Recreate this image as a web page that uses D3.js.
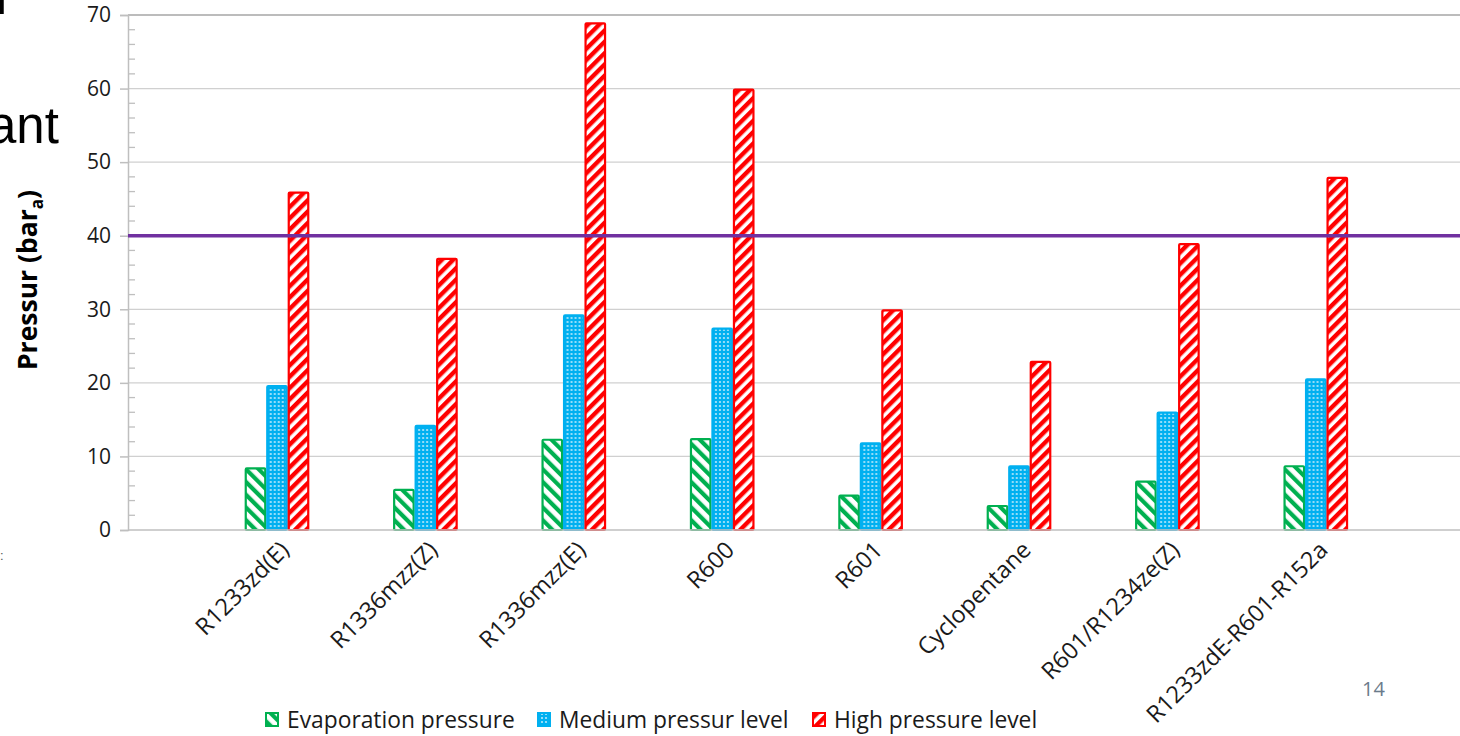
<!DOCTYPE html>
<html>
<head>
<meta charset="utf-8">
<script src="https://cdn.jsdelivr.net/npm/d3@7"></script>
<style>
  html, body { margin: 0; padding: 0; background: #fff; }
  svg { display: block; }
</style>
</head>
<body>
<svg id="chart" width="1460" height="736"></svg>
<script>
// Refrigerant pressure levels (bar absolute)
const categories = ["R1233zd(E)", "R1336mzz(Z)", "R1336mzz(E)", "R600", "R601", "Cyclopentane", "R601/R1234ze(Z)", "R1233zdE-R601-R152a"];
const evaporation = [8.5, 5.6, 12.4, 12.5, 4.8, 3.4, 6.7, 8.8];
const medium = [19.7, 14.3, 29.3, 27.5, 11.9, 8.8, 16.1, 20.6];
const high = [46, 37, 69, 60, 30, 23, 39, 48];
const seriesNames = ["Evaporation pressure", "Medium pressur level", "High pressure level"];
const yTicks = [0, 10, 20, 30, 40, 50, 60, 70];
const limitValue = 40;

const svg = d3.select("#chart");
const font = "'Open Sans', 'Noto Sans', sans-serif";

const plot = { left: 128, right: 1460, top: 15, bottom: 530 };
const y = d3.scaleLinear().domain([0, 70]).range([plot.bottom, plot.top]);
const x = d3.scaleBand().domain(categories).range([202.8, 202.8 + 8 * 148.4]).padding(0);
const inner = d3.scaleBand().domain([0, 1, 2]).range([0, 64.5]);

// hatch patterns
const defs = svg.append("defs");
const pG = defs.append("pattern").attr("id", "pEvap").attr("patternUnits", "userSpaceOnUse")
  .attr("width", 9).attr("height", 9).attr("patternTransform", "rotate(-45)");
pG.append("rect").attr("width", 9).attr("height", 9).attr("fill", "#fff");
pG.append("rect").attr("width", 4.2).attr("height", 9).attr("fill", "#00B050");

const pR = defs.append("pattern").attr("id", "pHigh").attr("patternUnits", "userSpaceOnUse")
  .attr("width", 8).attr("height", 8).attr("patternTransform", "rotate(45)");
pR.append("rect").attr("width", 8).attr("height", 8).attr("fill", "#fff");
pR.append("rect").attr("width", 4.4).attr("height", 8).attr("fill", "#FF0000");

const pB = defs.append("pattern").attr("id", "pMed").attr("patternUnits", "userSpaceOnUse")
  .attr("width", 4).attr("height", 4);
pB.append("rect").attr("width", 4).attr("height", 4).attr("fill", "#00B0F0");
pB.append("circle").attr("cx", 2).attr("cy", 2).attr("r", 1.1).attr("fill", "#b8e8fb");

const fills = ["url(#pEvap)", "url(#pMed)", "url(#pHigh)"];
const strokes = ["#00B050", "#00B0F0", "#FF0000"];
const series = [evaporation, medium, high];

// background slide fragments
svg.append("text").attr("x", -4).attr("y", 14).attr("font-family", "Liberation Sans, Arial, sans-serif")
  .attr("font-size", 50).attr("fill", "#000").text("l");
svg.append("text").attr("x", -12).attr("y", 143).attr("font-family", "Liberation Sans, Arial, sans-serif")
  .attr("font-size", 51).attr("fill", "#000").text("ant");
svg.append("text").attr("x", 0).attr("y", 560).attr("font-family", "Liberation Sans, Arial, sans-serif")
  .attr("font-size", 13).attr("fill", "#555").text(":");

// gridlines
svg.append("g").selectAll("line").data(yTicks.filter(d => d > 0)).join("line")
  .attr("x1", plot.left).attr("x2", plot.right)
  .attr("y1", d => y(d)).attr("y2", d => y(d))
  .attr("stroke", d => d === 70 ? "#a6a6a6" : "#d0d0d0").attr("stroke-width", d => d === 70 ? 1.5 : 1.2);

// y axis with major ticks (left) and minor ticks (right)
const yAxis = svg.append("g").attr("transform", `translate(${plot.left},0)`)
  .call(d3.axisLeft(y).tickValues(yTicks).tickSize(8).tickPadding(9));
yAxis.select(".domain").attr("stroke", "#bfbfbf").attr("stroke-width", 1.5);
yAxis.selectAll(".tick line").attr("stroke", "#bfbfbf").attr("stroke-width", 1.5);
yAxis.selectAll(".tick text").attr("font-family", font).attr("font-size", 21).attr("fill", "#1a1a1a");
const minor = d3.range(0, 71, 2).filter(d => d % 10 !== 0);
svg.append("g").selectAll("line").data(minor).join("line")
  .attr("x1", plot.left).attr("x2", plot.left + 7)
  .attr("y1", d => y(d)).attr("y2", d => y(d))
  .attr("stroke", "#bfbfbf").attr("stroke-width", 1.3);

// bars
categories.forEach((c, i) => {
  const g = svg.append("g").attr("transform", `translate(${x(c) + x.bandwidth() / 2 - 32.25},0)`);
  series.forEach((s, k) => {
    const v = s[i];
    g.append("rect")
      .attr("x", inner(k) + 1).attr("y", y(v) + 1)
      .attr("width", inner.bandwidth() - 2).attr("height", y(0) - y(v) - 1)
      .attr("fill", fills[k]).attr("stroke", strokes[k]).attr("stroke-width", 2.2)
      .attr("rx", 1);
  });
});

// x axis
svg.append("line").attr("x1", plot.left).attr("x2", plot.right)
  .attr("y1", y(0)).attr("y2", y(0)).attr("stroke", "#bfbfbf").attr("stroke-width", 1.6);

// category labels, rotated
svg.append("g").selectAll("text").data(categories).join("text")
  .attr("transform", d => `translate(${x(d) + x.bandwidth() / 2 + 9},${y(0) + 17}) rotate(-45)`)
  .attr("text-anchor", "end").attr("dominant-baseline", "middle")
  .attr("font-family", font).attr("font-size", 23.5).attr("fill", "#1a1a1a")
  .text(d => d);

// 40 bar limit line
svg.append("line").attr("x1", plot.left).attr("x2", plot.right)
  .attr("y1", y(limitValue)).attr("y2", y(limitValue))
  .attr("stroke", "#7030A0").attr("stroke-width", 3.5);

// y axis title
const yt = svg.append("text").attr("transform", `translate(37,${280}) rotate(-90)`)
  .attr("text-anchor", "middle").attr("font-family", font).attr("font-size", 26.5)
  .attr("font-weight", "bold").attr("fill", "#000");
yt.append("tspan").text("Pressur (bar");
yt.append("tspan").attr("font-size", 17).attr("dy", 6).text("a");
yt.append("tspan").attr("dy", -6).text(")");

// legend
const legendX = [265, 537, 812];
seriesNames.forEach((n, k) => {
  svg.append("rect").attr("x", legendX[k] + 1).attr("y", 713).attr("width", 12).attr("height", 13)
    .attr("fill", fills[k]).attr("stroke", strokes[k]).attr("stroke-width", 2);
  svg.append("text").attr("x", legendX[k] + 22).attr("y", 728)
    .attr("font-family", font).attr("font-size", 22.8).attr("fill", "#1a1a1a").text(n);
});

// slide number
svg.append("text").attr("x", 1362).attr("y", 696).attr("font-family", font)
  .attr("font-size", 20).attr("fill", "#6b7b8b").text("14");
</script>
</body>
</html>
